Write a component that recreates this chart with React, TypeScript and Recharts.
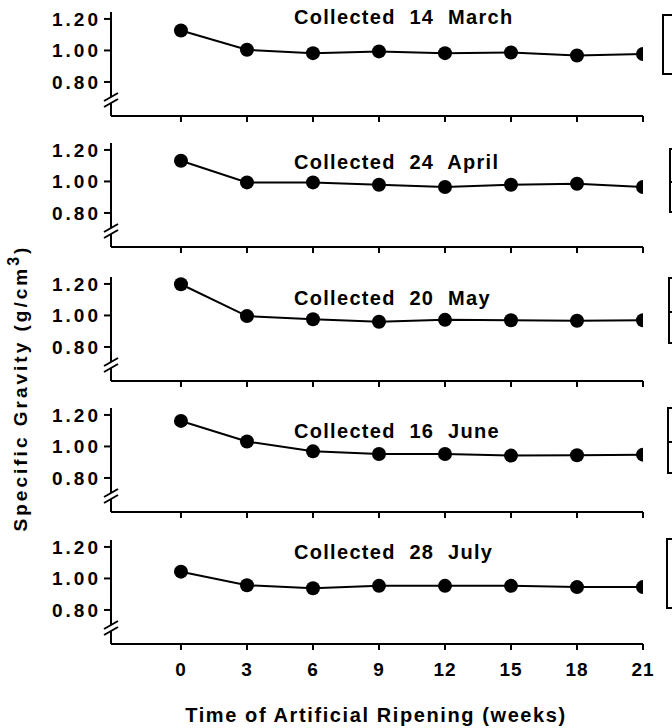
import React from 'react';
import { LineChart, Line, XAxis, YAxis, ReferenceLine } from 'recharts';

// weeks of artificial ripening
const weeks = [0, 3, 6, 9, 12, 15, 18, 21];
const yTicks = [0.8, 1.0, 1.2];

// specific gravity (g/cm3), one list per collection date
const march14 = [1.127, 1.004, 0.983, 0.994, 0.983, 0.987, 0.968, 0.977];
const april24 = [1.131, 0.994, 0.994, 0.979, 0.965, 0.979, 0.985, 0.965];
const may20 = [1.198, 0.996, 0.976, 0.96, 0.972, 0.97, 0.966, 0.97];
const june16 = [1.162, 1.031, 0.969, 0.952, 0.952, 0.942, 0.944, 0.948];
const july28 = [1.043, 0.957, 0.938, 0.953, 0.953, 0.953, 0.945, 0.945];

const titles = ['Collected  14  March', 'Collected  24  April', 'Collected  20  May', 'Collected  16  June', 'Collected  28  July'];
const series = [march14, april24, may20, june16, july28];

/* --- layout --- */
const FONT = '"Liberation Sans", Arial, Helvetica, sans-serif';
const XMIN = -3.18;
const YMIN = 0.584;
const YMAX = 1.244;
const PX_X = (21 - XMIN) / 532; // data units per pixel
const PX_Y = (YMAX - YMIN) / 104;

const panelBottoms = [116, 247, 381, 512, 644];
const titleY = [17, 162, 298, 431, 552];
const boxes = [
    { left: 662, top: 14, bottom: 75, mid: false },
    { left: 669, top: 148, bottom: 213, mid: true },
    { left: 668, top: 277, bottom: 344, mid: true },
    { left: 667, top: 407, bottom: 474, mid: true },
    { left: 666, top: 538, bottom: 609, mid: false },
];

const YTick = (props: any) => {
    const { x, y, payload } = props;
    return (
        <text x={x} y={y} dy="0.355em" textAnchor="end" fill="#000" fontSize={19} fontWeight={700} fontFamily={FONT} letterSpacing={3}>
            {Number(payload.value).toFixed(2)}
        </text>
    );
};

const makeXTick = (show: boolean) => (props: any) => {
    const { x, y, payload } = props;
    if (!show) return <g />;
    return (
        <text x={x} y={y} dy="0.71em" textAnchor="middle" fill="#000" fontSize={19} fontWeight={700} fontFamily={FONT} letterSpacing={1}>
            {payload.value}
        </text>
    );
};

function Panel({ values, last }: { values: number[]; last: boolean }) {
    const data = weeks.map((w, i) => ({ week: w, sg: values[i] }));
    const brk = (px: number) => YMIN + px * PX_Y;
    const seg = { stroke: '#000', strokeWidth: 2, ifOverflow: 'visible' as const };
    return (
        <LineChart width={672} height={160} data={data} margin={{ top: 6, right: 29, bottom: 20, left: 11 }}>
            <XAxis
                dataKey="week"
                type="number"
                domain={[XMIN, 21]}
                ticks={weeks}
                allowDataOverflow
                height={30}
                axisLine={{ stroke: '#000', strokeWidth: 2 }}
                tickLine={{ stroke: '#000', strokeWidth: 2 }}
                tickSize={6}
                tickMargin={13}
                tick={makeXTick(last)}
            />
            <YAxis
                type="number"
                domain={[YMIN, YMAX]}
                ticks={yTicks}
                allowDataOverflow
                width={100}
                axisLine={false}
                tickLine={{ stroke: '#000', strokeWidth: 2 }}
                tickSize={7}
                tickMargin={3}
                tick={YTick}
            />
            {/* broken y axis */}
            <ReferenceLine segment={[{ x: XMIN, y: YMAX }, { x: XMIN, y: brk(19) }]} {...seg} />
            <ReferenceLine segment={[{ x: XMIN, y: brk(13) }, { x: XMIN, y: YMIN }]} {...seg} />
            <ReferenceLine segment={[{ x: XMIN - 7 * PX_X, y: brk(15) }, { x: XMIN + 7 * PX_X, y: brk(23) }]} {...seg} />
            <ReferenceLine segment={[{ x: XMIN - 7 * PX_X, y: brk(9) }, { x: XMIN + 7 * PX_X, y: brk(17) }]} {...seg} />
            <Line
                dataKey="sg"
                stroke="#000"
                strokeWidth={2}
                dot={{ r: 7, fill: '#000', stroke: '#000', strokeWidth: 0 }}
                isAnimationActive={false}
            />
        </LineChart>
    );
}

export default function App() {
    return (
        <div style={{ position: 'absolute', left: 0, top: 0, width: 672, height: 728, overflow: 'hidden', background: '#fff', fontFamily: FONT }}>
            {series.map((vals, i) => (
                <div key={i} style={{ position: 'absolute', left: 0, top: panelBottoms[i] - 110, width: 672, height: 160 }}>
                    <Panel values={vals} last={i === series.length - 1} />
                </div>
            ))}
            {titles.map((t, i) => (
                <div
                    key={t}
                    style={{
                        position: 'absolute', left: 294, top: titleY[i], transform: 'translateY(-50%)',
                        fontSize: 20, fontWeight: 700, letterSpacing: 1.3, whiteSpace: 'pre', lineHeight: 1,
                    }}
                >
                    {t}
                </div>
            ))}
            {boxes.map((b, i) => (
                <div
                    key={i}
                    style={{
                        position: 'absolute', left: b.left, top: b.top, width: 30, height: b.bottom - b.top,
                        border: '2px solid #000', boxSizing: 'border-box',
                    }}
                >
                    {b.mid && <div style={{ position: 'absolute', left: 0, right: 0, top: '50%', borderTop: '2px solid #000' }} />}
                </div>
            ))}
            <div
                style={{
                    position: 'absolute', left: 20, top: 388, transform: 'translate(-50%, -50%) rotate(-90deg)',
                    fontSize: 19, fontWeight: 700, letterSpacing: 3, whiteSpace: 'nowrap', lineHeight: 1,
                }}
            >
                Specific Gravity (g/cm<sup style={{ fontSize: 16, verticalAlign: 'top', position: 'relative', top: -5 }}>3</sup>)
            </div>
            <div
                style={{
                    position: 'absolute', left: 376, top: 715, transform: 'translate(-50%, -50%)',
                    fontSize: 20, fontWeight: 700, letterSpacing: 1.6, whiteSpace: 'nowrap', lineHeight: 1,
                }}
            >
                Time of Artificial Ripening (weeks)
            </div>
        </div>
    );
}
